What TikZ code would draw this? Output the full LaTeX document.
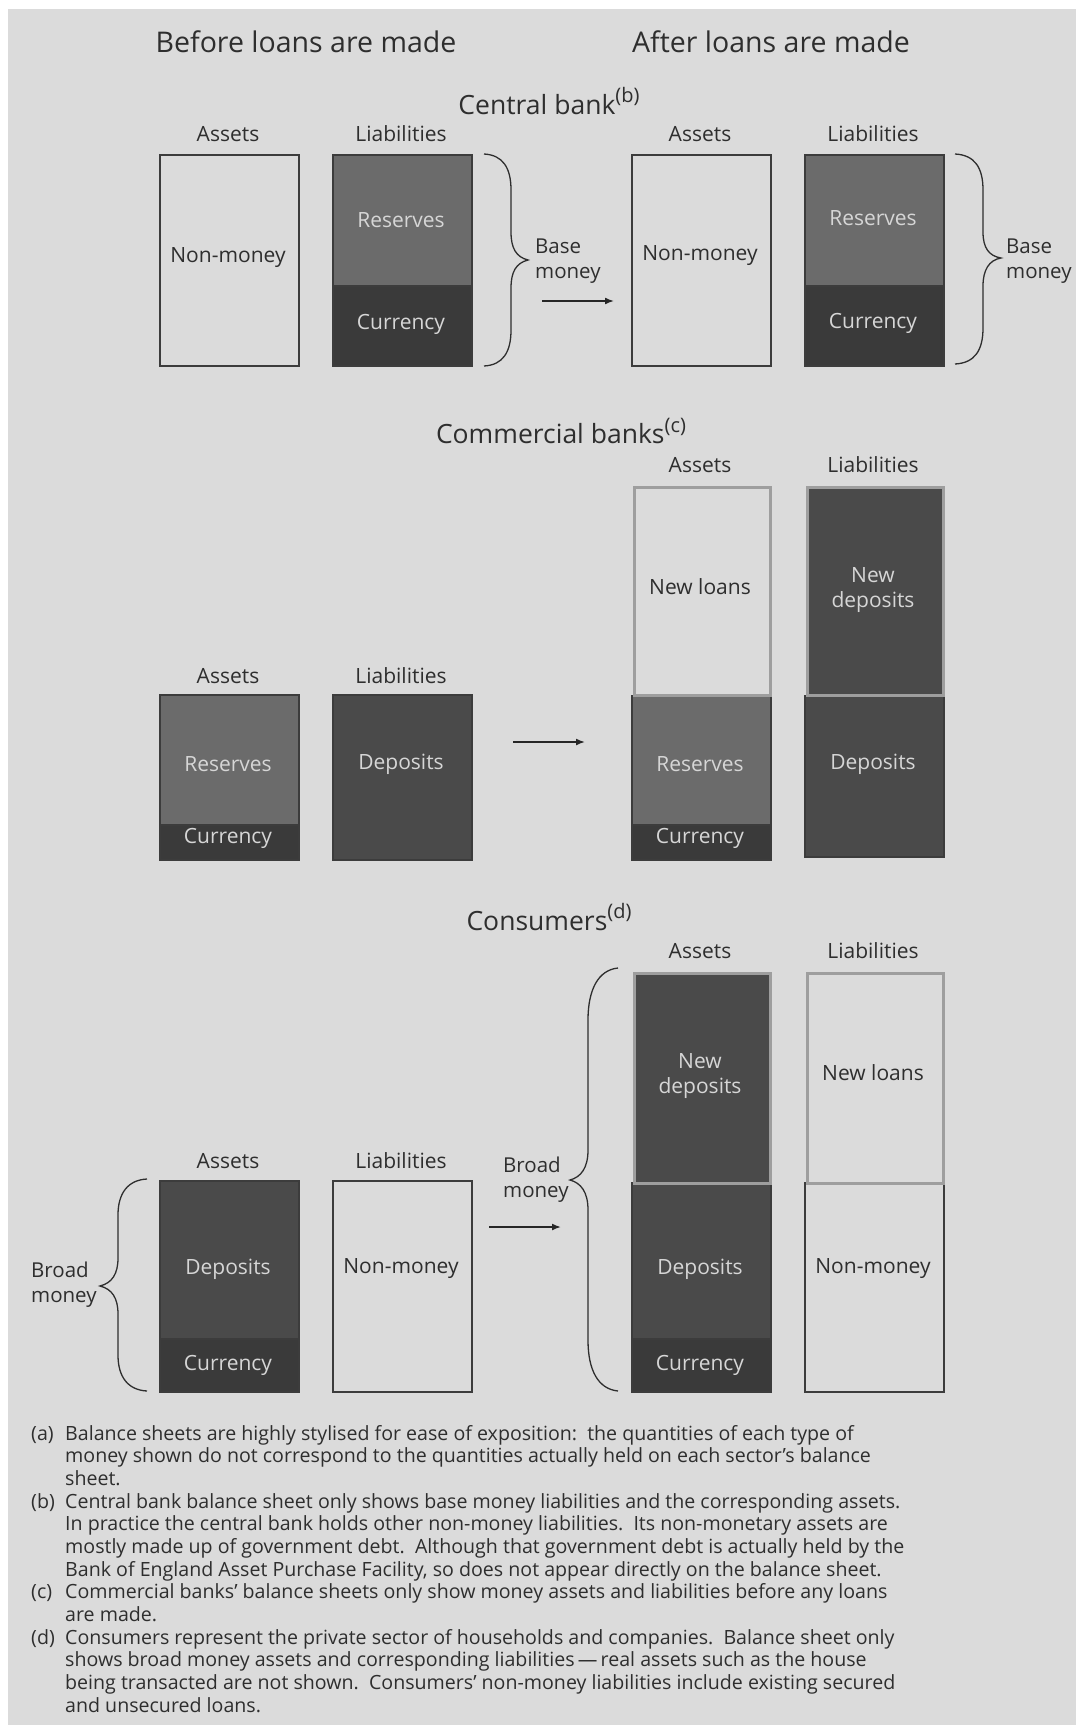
\documentclass[tikz,border=0pt]{standalone}
\usepackage{fontspec}
\setmainfont{Open Sans}
\usetikzlibrary{arrows.meta}
\definecolor{bgc}{HTML}{DBDBDB}
\definecolor{resc}{HTML}{6B6B6B}
\definecolor{curc}{HTML}{3A3A3A}
\definecolor{depc}{HTML}{4A4A4A}
\definecolor{edgec}{HTML}{3C3C3C}
\definecolor{newedge}{HTML}{9E9E9E}
\definecolor{lighttxt}{HTML}{D6D6D6}
\definecolor{darktxt}{HTML}{2E2E2E}
\begin{document}
\begin{tikzpicture}[x=1pt,y=-1pt,
  cell/.style={draw=edgec, line width=1.6pt, inner sep=0pt, anchor=north west, minimum width=139pt},
  newcell/.style={draw=newedge, line width=3pt, inner sep=0pt, anchor=north west, minimum width=136pt},
  wtxt/.style={text=lighttxt, font=\fontsize{21}{25}\selectfont, align=center, inner sep=0pt},
  dtxt/.style={text=darktxt, font=\fontsize{21}{25}\selectfont, align=center, inner sep=0pt},
  head/.style={text=darktxt, font=\fontsize{28.5}{32}\selectfont, inner sep=0pt},
  sect/.style={text=darktxt, font=\fontsize{26.5}{30}\selectfont, inner sep=0pt},
  col/.style={text=darktxt, font=\fontsize{21}{24}\selectfont, inner sep=0pt},
  brtxt/.style={text=darktxt, font=\fontsize{20.5}{25}\selectfont, align=left, inner sep=0pt, anchor=west},
  fn/.style={text=darktxt, font=\fontsize{19.6}{22.67}\selectfont, inner sep=0pt, anchor=base west},
  arr/.style={line width=1.6pt, draw=black!85, -{Latex[length=9pt,width=7pt]}},
  brace/.style={line width=1.3pt, draw=darktxt}]
\useasboundingbox (0,0) rectangle (1076,1727);
\fill[white] (0,0) rectangle (1076,1727);
\fill[bgc] (8,9) rectangle (1076,1725);

% headings
\node[head] (hbefore) at (306,42) {Before loans are made};
\node[head] (hafter) at (771,42) {After loans are made};

% ================= Central bank
\node[sect] (tcb) at (549,101) {Central bank\raisebox{0.42em}{\fontsize{20}{22}\selectfont(b)}};
\node[col] (cbBa) at (228,134) {Assets};
\node[col] (cbBl) at (401,134) {Liabilities};
\node[col] (cbAa) at (700,134) {Assets};
\node[col] (cbAl) at (873,134) {Liabilities};

\node[cell, fill=bgc, minimum height=211pt] (cbBA) at (159,154) {};
\node[cell, fill=resc, minimum height=131pt] (cbBLr) at (332,154) {};
\node[cell, fill=curc, minimum height=80pt] (cbBLc) at (332,285) {};
\node[cell, fill=bgc, minimum height=211pt] (cbAA) at (631,154) {};
\node[cell, fill=resc, minimum height=131pt] (cbALr) at (804,154) {};
\node[cell, fill=curc, minimum height=80pt] (cbALc) at (804,285) {};

\node[dtxt] (t1) at (228,258) {Non-money};
\node[wtxt] (t2) at (401,220) {Reserves};
\node[wtxt] (t3) at (401,324) {Currency};
\node[dtxt] (t4) at (700,256) {Non-money};
\node[wtxt] (t5) at (873,218) {Reserves};
\node[wtxt] (t6) at (873,323) {Currency};

\draw[brace] (484,154) .. controls (503,155) and (511,168) .. (511,190) -- (511,232)
  .. controls (511,248) and (516,257) .. (528,260)
  .. controls (516,263) and (511,272) .. (511,288) -- (511,330)
  .. controls (511,352) and (503,365) .. (484,366);
\node[brtxt] (bm1) at (535,261) {Base\\money};
\draw[brace] (955,154) .. controls (975,155) and (983,168) .. (983,190) -- (983,232)
  .. controls (983,248) and (989,256) .. (1001,258)
  .. controls (989,260) and (983,270) .. (983,286) -- (983,328)
  .. controls (983,350) and (975,363) .. (955,364);
\node[brtxt] (bm2) at (1006,261) {Base\\money};

\coordinate (a1s) at (542,301);
\coordinate (a1e) at (614,301);
\draw[arr] (a1s) -- (a1e);

% ================= Commercial banks
\node[sect] (tcm) at (561,431) {Commercial banks\raisebox{0.42em}{\fontsize{20}{22}\selectfont(c)}};
\node[col] (cmAa) at (700,465) {Assets};
\node[col] (cmAl) at (873,465) {Liabilities};
\node[col] (cmBa) at (228,676) {Assets};
\node[col] (cmBl) at (401,676) {Liabilities};

\node[cell, fill=resc, minimum height=130pt] (cmBAr) at (159,694) {};
\node[cell, fill=curc, minimum height=35pt] (cmBAc) at (159,824) {};
\node[cell, fill=depc, minimum height=165pt] (cmBLd) at (332,694) {};

\node[cell, fill=resc, minimum height=129pt] (cmAAr) at (631,695) {};
\node[cell, fill=curc, minimum height=35pt] (cmAAc) at (631,824) {};
\node[cell, fill=depc, minimum height=161pt] (cmALd) at (804,695) {};
\node[newcell, fill=bgc, minimum height=208pt] (cmAAn) at (632.5,485.5) {};
\node[newcell, fill=depc, minimum height=208pt] (cmALn) at (805.5,485.5) {};

\node[wtxt] (t7) at (228,764) {Reserves};
\node[wtxt] (t8) at (228,838) {Currency};
\node[wtxt] (t9) at (401,764) {Deposits};
\node[dtxt] (t10) at (700,587) {New loans};
\node[wtxt] (t11) at (873,590) {New\\deposits};
\node[wtxt] (t12) at (700,764) {Reserves};
\node[wtxt] (t13) at (700,838) {Currency};
\node[wtxt] (t14) at (873,764) {Deposits};

\coordinate (a2s) at (513,742);
\coordinate (a2e) at (585,742);
\draw[arr] (a2s) -- (a2e);

% ================= Consumers
\node[sect] (tco) at (549,917) {Consumers\raisebox{0.42em}{\fontsize{20}{22}\selectfont(d)}};
\node[col] (coAa) at (700,951) {Assets};
\node[col] (coAl) at (873,951) {Liabilities};
\node[col] (coBa) at (228,1161) {Assets};
\node[col] (coBl) at (401,1161) {Liabilities};

\node[cell, fill=depc, minimum height=158pt] (coBAd) at (159,1180) {};
\node[cell, fill=curc, minimum height=53pt] (coBAc) at (159,1338) {};
\node[cell, fill=bgc, minimum height=211pt] (coBLn) at (332,1180) {};

\node[cell, fill=depc, minimum height=156pt] (coAAd) at (631,1182) {};
\node[cell, fill=curc, minimum height=53pt] (coAAc) at (631,1338) {};
\node[cell, fill=bgc, minimum height=209pt] (coALn) at (804,1182) {};
\node[newcell, fill=depc, minimum height=210pt] (coAAn) at (632.5,971.5) {};
\node[newcell, fill=bgc, minimum height=210pt] (coALl) at (805.5,971.5) {};

\node[wtxt] (t15) at (228,1269) {Deposits};
\node[wtxt] (t16) at (228,1365) {Currency};
\node[dtxt] (t17) at (401,1269) {Non-money};
\node[wtxt] (t18) at (700,1076) {New\\deposits};
\node[dtxt] (t19) at (873,1073) {New loans};
\node[wtxt] (t20) at (700,1269) {Deposits};
\node[wtxt] (t21) at (700,1365) {Currency};
\node[dtxt] (t22) at (873,1269) {Non-money};

\draw[brace] (147,1179) .. controls (128,1180) and (118,1193) .. (118,1215) -- (118,1258)
  .. controls (118,1274) and (112,1283) .. (100,1286)
  .. controls (112,1289) and (118,1298) .. (118,1314) -- (118,1355)
  .. controls (118,1377) and (128,1390) .. (147,1391);
\node[brtxt] (bm3) at (31,1285) {Broad\\money};

\draw[brace] (618,968) .. controls (598,970) and (588,990) .. (588,1020) -- (588,1150)
  .. controls (588,1168) and (581,1177) .. (570,1180)
  .. controls (581,1183) and (588,1192) .. (588,1210) -- (588,1340)
  .. controls (588,1370) and (598,1389) .. (618,1391);
\node[brtxt] (bm4) at (503,1180) {Broad\\money};

\coordinate (a3s) at (489,1227);
\coordinate (a3e) at (561,1227);
\draw[arr] (a3s) -- (a3e);

% ================= Footnotes
\node[fn] (fa) at (31,1440) {(a)};
\node[fn] (fa1) at (65,1440) {Balance sheets are highly stylised for ease of exposition:\ \ the quantities of each type of};
\node[fn] (fa2) at (65,1462.67) {money shown do not correspond to the quantities actually held on each sector’s balance};
\node[fn] (fa3) at (65,1485.33) {sheet.};
\node[fn] (fb) at (31,1508) {(b)};
\node[fn] (fb1) at (65,1508) {Central bank balance sheet only shows base money liabilities and the corresponding assets.};
\node[fn] (fb2) at (65,1530.67) {In practice the central bank holds other non-money liabilities.\ \ Its non-monetary assets are};
\node[fn] (fb3) at (65,1553.33) {mostly made up of government debt.\ \ Although that government debt is actually held by the};
\node[fn] (fb4) at (65,1576) {Bank of England Asset Purchase Facility, so does not appear directly on the balance sheet.};
\node[fn] (fc) at (31,1598.67) {(c)};
\node[fn] (fc1) at (65,1598.67) {Commercial banks’ balance sheets only show money assets and liabilities before any loans};
\node[fn] (fc2) at (65,1621.33) {are made.};
\node[fn] (fd) at (31,1644) {(d)};
\node[fn] (fd1) at (65,1644) {Consumers represent the private sector of households and companies.\ \ Balance sheet only};
\node[fn] (fd2) at (65,1666.67) {shows broad money assets and corresponding liabilities\,—\,real assets such as the house};
\node[fn] (fd3) at (65,1689.33) {being transacted are not shown.\ \ Consumers’ non-money liabilities include existing secured};
\node[fn] (fd4) at (65,1712) {and unsecured loans.};
\end{tikzpicture}
\end{document}
